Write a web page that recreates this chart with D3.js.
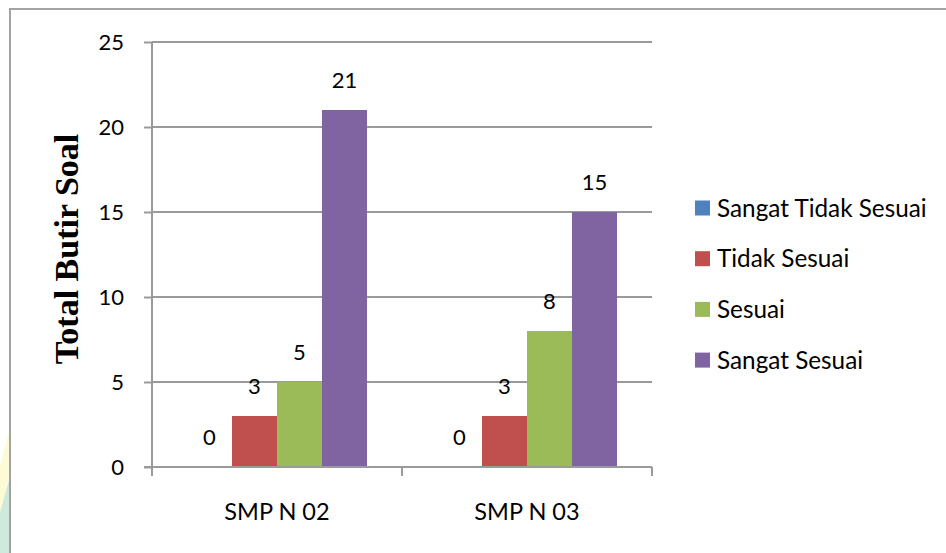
<!DOCTYPE html>
<html>
<head>
<meta charset="utf-8">
<script src="https://cdn.jsdelivr.net/npm/d3@7"></script>
<style>
  html, body { margin: 0; padding: 0; background: #fff; }
  svg { display: block; }
  text { font-family: Lato, "Open Sans", sans-serif; fill: #000; }
</style>
</head>
<body>
<svg id="chart" width="946" height="553"></svg>
<script>
// Jumlah butir soal per kategori kesesuaian di tiap sekolah
const schools = ["SMP N 02", "SMP N 03"];
const seriesNames = ["Sangat Tidak Sesuai", "Tidak Sesuai", "Sesuai", "Sangat Sesuai"];
const seriesColors = ["#4F81BD", "#C0504D", "#9BBB59", "#8064A2"];
const sangatTidakSesuai = [0, 0];
const tidakSesuai = [3, 3];
const sesuai = [5, 8];
const sangatSesuai = [21, 15];
const yTicks = [0, 5, 10, 15, 20, 25];
const yTitle = "Total Butir Soal";

const seriesValues = [sangatTidakSesuai, tidakSesuai, sesuai, sangatSesuai];

const svg = d3.select("#chart");
const W = 946, H = 553;
const plot = { left: 152, right: 652, top: 42, bottom: 467 };

svg.append("rect").attr("width", W).attr("height", H).attr("fill", "#fff");

// faint decoration at the lower-left edge
svg.append("polygon")
  .attr("points", "0,466 9,432 9,480 0,512")
  .attr("fill", "#fdfbd6");
svg.append("polygon")
  .attr("points", "0,512 9,480 9,553 0,553")
  .attr("fill", "#cfeadc");

// outer frame (top and left edges)
svg.append("path")
  .attr("d", `M10,${H} L10,9 L${W},9`)
  .attr("fill", "none")
  .attr("stroke", "#a3a3a3")
  .attr("stroke-width", 2);

const y = d3.scaleLinear().domain([0, 25]).range([plot.bottom, plot.top]);
const x0 = d3.scaleBand().domain(schools).range([plot.left, plot.right])
  .paddingInner(0.28).paddingOuter(0.14);
const x1 = d3.scaleBand().domain(seriesNames).range([0, x0.bandwidth()]);

const gridColor = "#9a9a9a";

// horizontal gridlines
svg.append("g").selectAll("line").data(yTicks.filter(d => d > 0)).join("line")
  .attr("x1", plot.left).attr("x2", plot.right)
  .attr("y1", d => y(d)).attr("y2", d => y(d))
  .attr("stroke", gridColor).attr("stroke-width", 2);

// bars
const groups = svg.append("g").selectAll("g").data(schools).join("g")
  .attr("transform", d => `translate(${x0(d)},0)`);

groups.each(function (school, si) {
  const g = d3.select(this);
  const rows = seriesNames.map((name, k) => ({ name, value: seriesValues[k][si], color: seriesColors[k] }));
  g.selectAll("rect").data(rows).join("rect")
    .attr("x", d => x1(d.name))
    .attr("y", d => y(d.value))
    .attr("width", x1.bandwidth())
    .attr("height", d => y(0) - y(d.value))
    .attr("fill", d => d.color);
  g.selectAll("text.val").data(rows).join("text")
    .attr("class", "val")
    .attr("x", d => x1(d.name) + x1.bandwidth() / 2)
    .attr("y", d => y(d.value) - 22)
    .attr("text-anchor", "middle")
    .attr("font-size", 22)
    .text(d => d.value);
});

// y axis
const yAxis = svg.append("g")
  .attr("transform", `translate(${plot.left},0)`)
  .call(d3.axisLeft(y).tickValues(yTicks).tickSize(8).tickPadding(20).tickSizeOuter(0));
yAxis.select(".domain").attr("stroke", gridColor).attr("stroke-width", 2)
  .attr("d", `M0,${plot.top}V${plot.bottom + 9}`);
yAxis.selectAll(".tick line").attr("stroke", gridColor).attr("stroke-width", 2);
yAxis.selectAll(".tick text").attr("font-size", 22).attr("font-family", "Lato, sans-serif").attr("fill", "#000");

// x axis: baseline plus category boundary ticks
const xAxis = svg.append("g")
  .attr("transform", `translate(0,${plot.bottom})`)
  .call(d3.axisBottom(x0).tickSize(0).tickPadding(36));
xAxis.select(".domain").attr("stroke", gridColor).attr("stroke-width", 2)
  .attr("d", `M${plot.left - 8},0H${plot.right}`);
xAxis.selectAll(".tick text").attr("font-size", 23.5).attr("font-family", "Lato, sans-serif").attr("fill", "#000");
const bounds = [plot.left].concat(schools.map(s => x0(s) + x0.bandwidth() + x0.step() * x0.paddingInner() / 2));
xAxis.append("g").selectAll("line").data(bounds.slice(1)).join("line")
  .attr("x1", d => d).attr("x2", d => d)
  .attr("y1", 0).attr("y2", 9)
  .attr("stroke", gridColor).attr("stroke-width", 2);

// y axis title
svg.append("text")
  .attr("transform", `translate(78,249) rotate(-90)`)
  .attr("text-anchor", "middle")
  .attr("font-weight", "bold")
  .attr("font-size", 34)
  .style("font-family", "'Liberation Serif', 'Times New Roman', serif")
  .text(yTitle);

// legend
const legend = svg.append("g").selectAll("g").data(seriesNames).join("g")
  .attr("transform", (d, i) => `translate(695,${208 + i * 50.7})`);
legend.append("rect")
  .attr("x", 0).attr("y", -7.5).attr("width", 15).attr("height", 15)
  .attr("fill", (d, i) => seriesColors[i]);
legend.append("text")
  .attr("x", 22).attr("y", 0).attr("dy", "0.35em")
  .attr("font-size", 24.3)
  .text(d => d);
</script>
</body>
</html>
